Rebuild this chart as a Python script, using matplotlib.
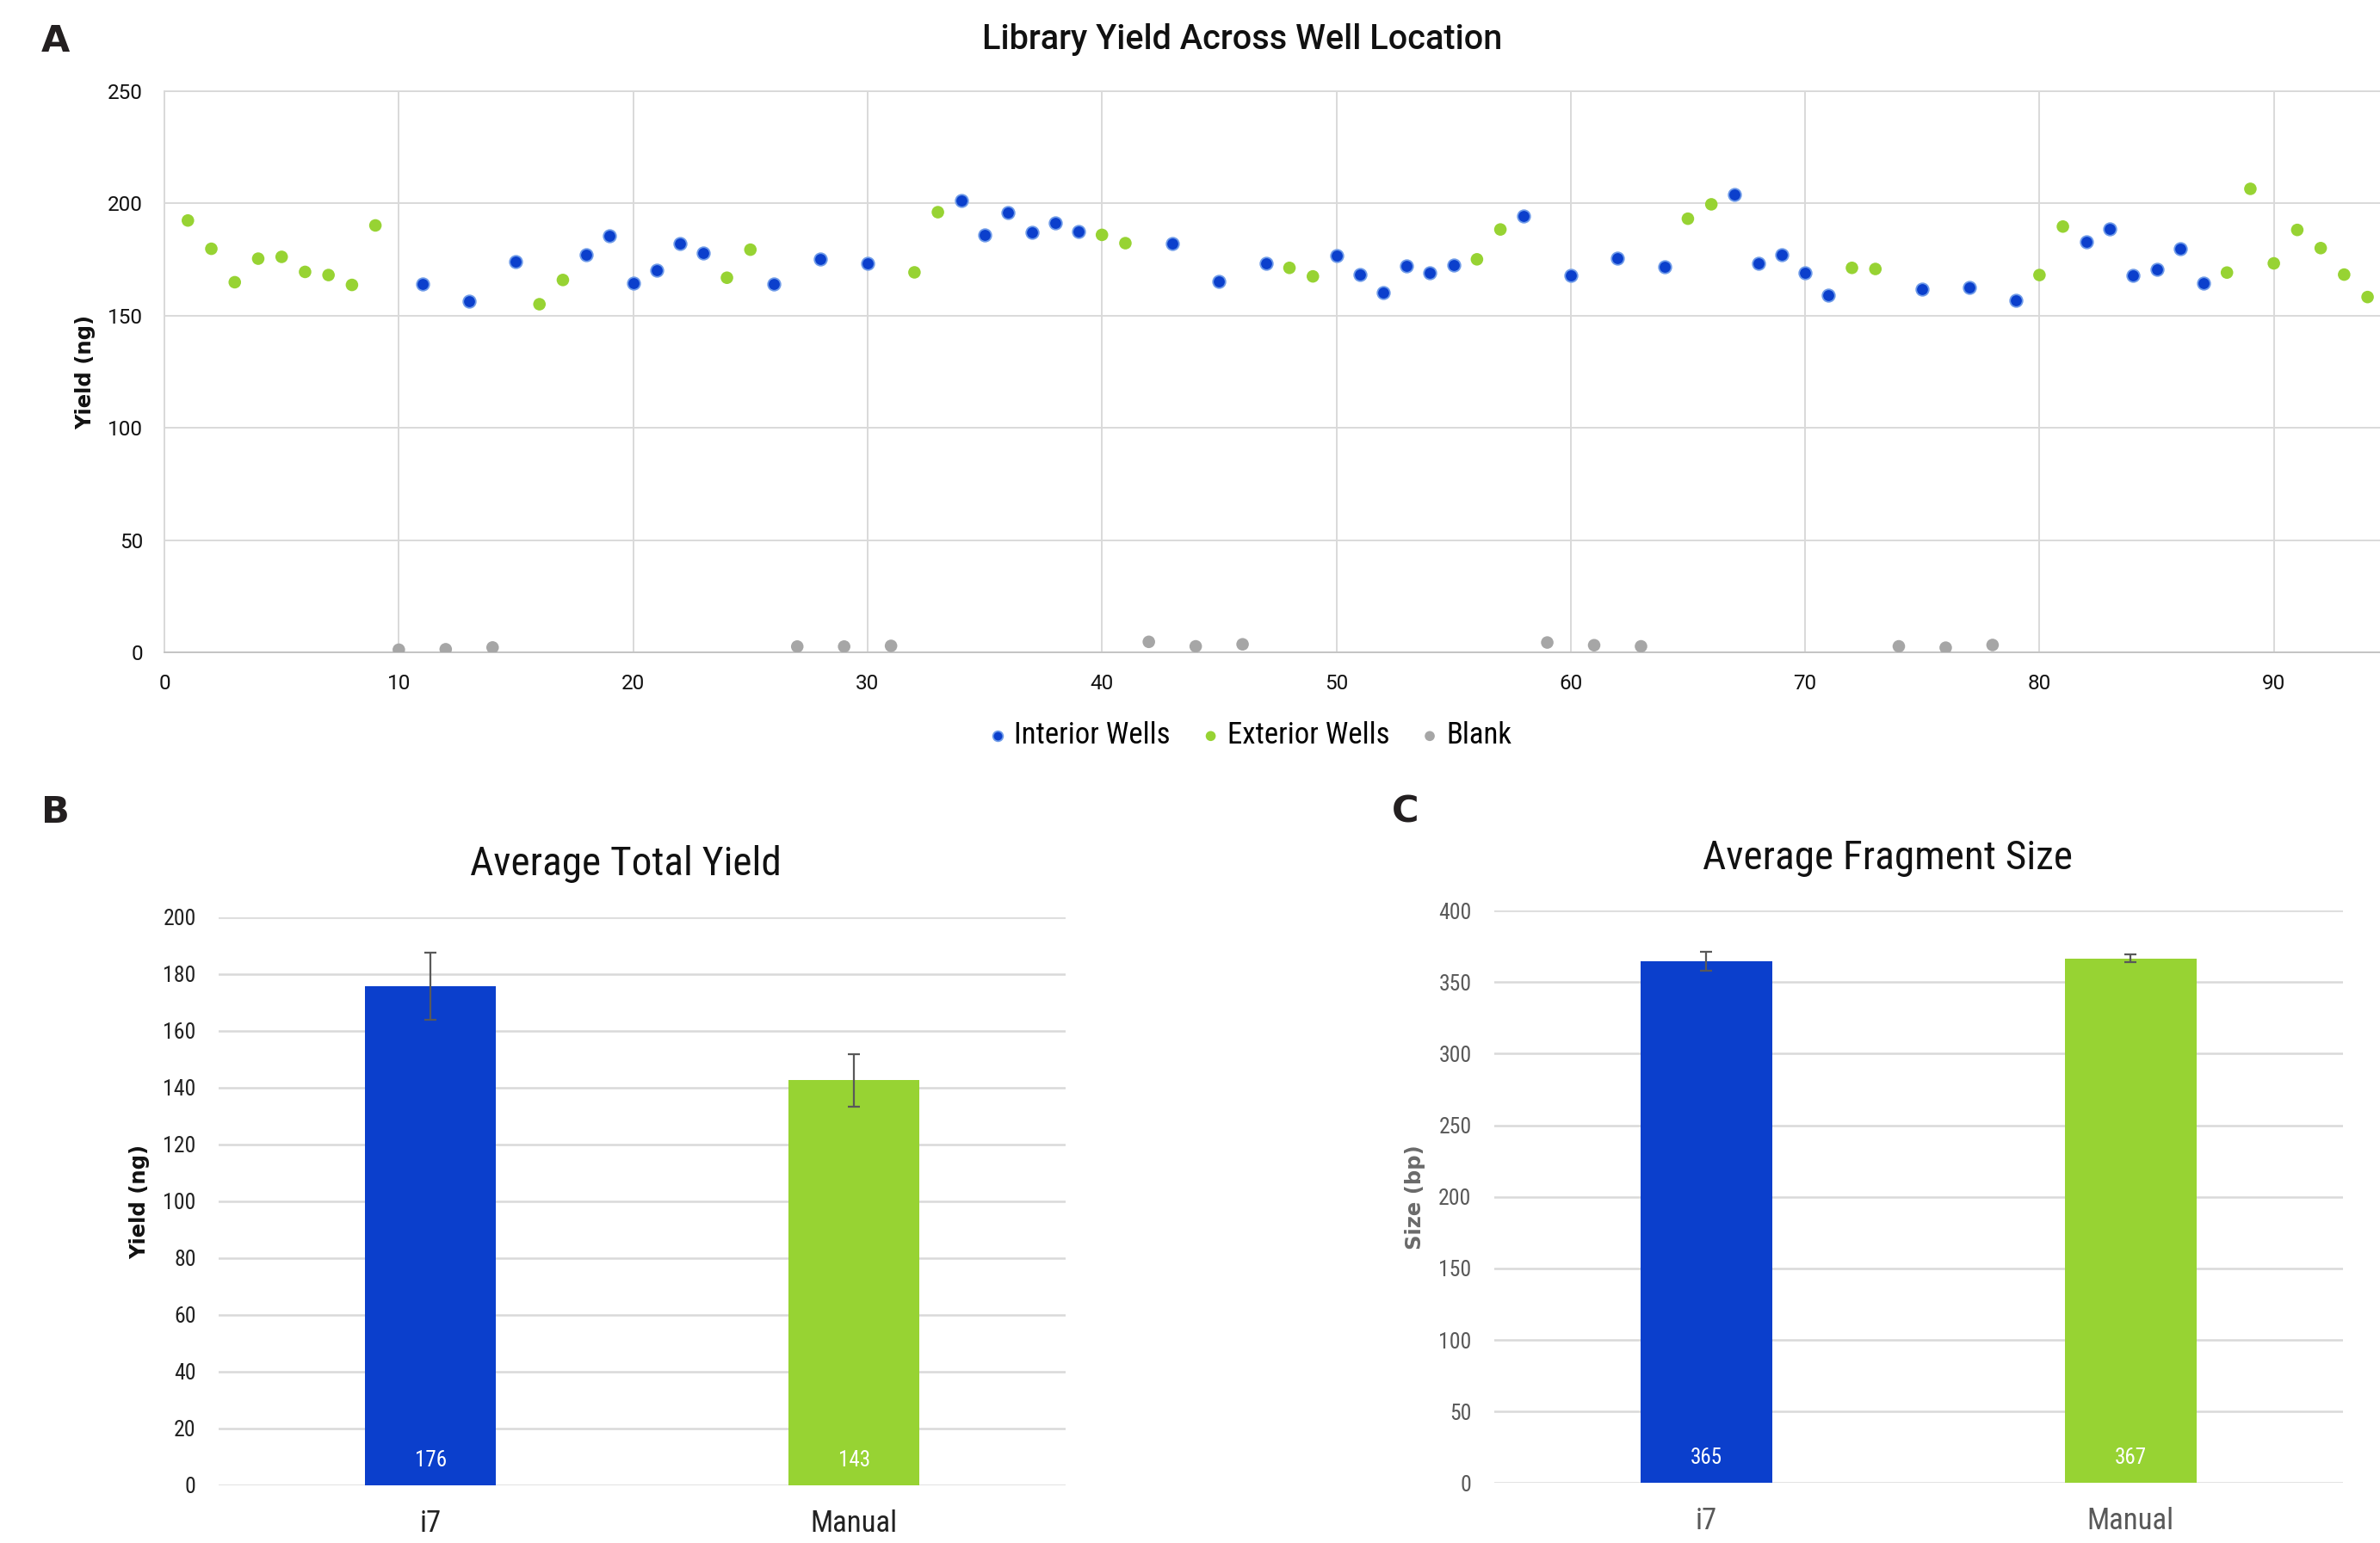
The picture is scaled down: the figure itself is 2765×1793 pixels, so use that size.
import matplotlib
matplotlib.use("Agg")
import matplotlib.pyplot as plt
from matplotlib import font_manager
from matplotlib.font_manager import FontProperties
from matplotlib.transforms import blended_transform_factory

# ---- Panel A: library yield per well ----
interior_wells = [11, 13, 15, 18, 19, 20, 21, 22, 23, 26, 28, 30, 34, 35, 36, 37, 38, 39,
                  43, 45, 47, 50, 51, 52, 53, 54, 55, 58, 60, 62, 64, 67, 68, 69, 70, 71,
                  75, 77, 79, 82, 83, 84, 85, 86, 87]
interior_yield = [164.1, 156.5, 173.9, 177.0, 185.4, 164.5, 170.3, 182.2, 178.0, 164.0,
                  175.1, 173.4, 201.2, 185.8, 195.9, 187.0, 191.3, 187.5, 182.3, 165.1,
                  173.3, 176.8, 168.3, 160.4, 172.2, 169.2, 172.4, 194.3, 168.1, 175.8,
                  171.9, 204.1, 173.4, 177.2, 169.2, 159.1, 161.8, 162.4, 156.8, 182.8,
                  188.8, 168.0, 170.5, 179.9, 164.6]

exterior_wells = [1, 2, 3, 4, 5, 6, 7, 8, 9, 16, 17, 24, 25, 32, 33, 40, 41, 48, 49,
                  56, 57, 65, 66, 72, 73, 80, 81, 88, 89, 90, 91, 92, 93, 94]
exterior_yield = [192.4, 179.8, 164.9, 175.4, 176.2, 169.5, 168.1, 163.7, 190.2, 155.1,
                  165.9, 166.9, 179.4, 169.3, 196.1, 186.0, 182.3, 171.3, 167.5, 175.1,
                  188.4, 193.2, 199.6, 171.3, 170.8, 168.1, 189.7, 169.2, 206.5, 173.3,
                  188.2, 180.1, 168.3, 158.3]

blank_wells = [10, 12, 14, 27, 29, 31, 42, 44, 46, 59, 61, 63, 74, 76, 78]
blank_yield = [1.2, 1.4, 2.2, 2.6, 2.6, 2.9, 4.7, 2.7, 3.6, 4.4, 3.2, 2.7, 2.7, 2.1, 3.3]

# ---- Panels B and C: method comparison ----
methods = ["i7", "Manual"]
avg_yield = [175.8, 142.6]
yield_err = [11.8, 9.2]
avg_size = [364.6, 366.6]
size_err = [6.8, 2.8]

BLUE = "#0b3fcc"
GREEN = "#97d333"
GREY_DOT = "#a6a6a6"
GRID = "#d9d9d9"

available = {f.name for f in font_manager.fontManager.ttflist}
MAIN = "Roboto" if "Roboto" in available else "DejaVu Sans"


def find_condensed():
    for fam in ["Liberation Sans Narrow", "Roboto Condensed", "Open Sans Condensed",
                "Noto Sans", "Open Sans", "DejaVu Sans"]:
        try:
            path = font_manager.findfont(FontProperties(family=fam, stretch="condensed"),
                                         fallback_to_default=False)
        except Exception:
            continue
        low = path.lower()
        if "condensed" in low or "narrow" in low:
            return path
    return None


cond_path = find_condensed()
if cond_path:
    sizes = dict(title=34, ytick=18.5, xtick=25, value=18, legend=25)
else:
    sizes = dict(title=31, ytick=15, xtick=21, value=16, legend=21)


def nfont(size):
    if cond_path:
        return FontProperties(fname=cond_path, size=size)
    return FontProperties(family=MAIN, size=size)


fig = plt.figure(figsize=(27.65, 17.93), dpi=100)

# ---------------- A ----------------
axA = fig.add_axes([0.0691, 0.5772, 0.9309, 0.3637])
axA.scatter(interior_wells, interior_yield, s=110, color=BLUE, edgecolors="#6f9be8",
            linewidths=1.3, zorder=3, label="Interior Wells")
axA.scatter(exterior_wells, exterior_yield, s=110, color=GREEN, edgecolors="none",
            zorder=3, label="Exterior Wells")
axA.scatter(blank_wells, blank_yield, s=110, color=GREY_DOT, edgecolors="none",
            zorder=3, label="Blank")
axA.set_xlim(0, 94.53)
axA.set_ylim(0, 250)
axA.set_xticks(range(0, 91, 10))
axA.set_yticks(range(0, 251, 50))
axA.grid(True, color=GRID, linewidth=1.4)
axA.set_axisbelow(True)
for side in ["top", "left", "bottom"]:
    axA.spines[side].set_color(GRID)
    axA.spines[side].set_linewidth(1.4)
axA.spines["bottom"].set_color("#c4c4c4")
axA.spines["right"].set_visible(False)
axA.tick_params(length=0, pad=18, labelsize=17.5, labelcolor="#111111")
for lab in axA.get_xticklabels() + axA.get_yticklabels():
    lab.set_family(MAIN)
axA.set_ylabel("Yield (ng)", fontsize=17.5, fontweight="bold", color="#111111")
axA.yaxis.set_label_coords(-0.031, 0.5)

fig.legend(*axA.get_legend_handles_labels(), loc="center", bbox_to_anchor=(0.5256, 0.5232),
           ncol=3, frameon=False, markerscale=0.8, handlelength=0.5, handletextpad=0.3,
           columnspacing=1.1, prop=nfont(sizes["legend"]))

fig.text(0.5219, 0.9745, "Library Yield Across Well Location", ha="center", va="center",
         fontsize=28.5, family=MAIN, fontweight="medium", color="#111111")


def bar_panel(rect, values, errors, ylim, step, ylabel, tick_color, ylabel_color):
    ax = fig.add_axes(rect)
    x = range(len(methods))
    ax.bar(x, values, width=0.31, color=[BLUE, GREEN], zorder=3)
    ax.errorbar(x, values, yerr=errors, fmt="none", ecolor="#595959", elinewidth=1.6,
                capsize=5, capthick=1.6, zorder=4)
    ax.set_xlim(-0.5, 1.5)
    ax.set_ylim(0, ylim)
    ax.set_yticks(range(0, ylim + 1, step))
    ax.set_xticks(list(x))
    ax.set_xticklabels(methods)
    ax.yaxis.grid(True, color=GRID, linewidth=1.8)
    ax.set_axisbelow(True)
    for side in ["top", "left", "right", "bottom"]:
        ax.spines[side].set_visible(False)
    ax.tick_params(axis="y", length=0, pad=19, labelcolor=tick_color)
    ax.tick_params(axis="x", length=0, pad=20, labelcolor=tick_color)
    for lab in ax.get_yticklabels():
        lab.set_fontproperties(nfont(sizes["ytick"]))
    for lab in ax.get_xticklabels():
        lab.set_fontproperties(nfont(sizes["xtick"]))
    ax.set_ylabel(ylabel, fontsize=17.5, fontweight="bold", color=ylabel_color)
    ax.yaxis.set_label_coords(-0.081, 0.5)
    tr = blended_transform_factory(ax.transData, ax.transAxes)
    for xi, v in zip(x, values):
        ax.text(xi, 0.044, f"{v:.0f}", transform=tr, ha="center", va="center",
                color="white", fontproperties=nfont(sizes["value"]), zorder=5)
    return ax


bar_panel([0.0919, 0.0374, 0.3559, 0.3681], avg_yield, yield_err, 200, 20,
          "Yield (ng)", "#222222", "#111111")
fig.text(0.2629, 0.440, "Average Total Yield", ha="center", va="center",
         fontproperties=nfont(sizes["title"]), color="#111111")

bar_panel([0.6278, 0.0388, 0.3566, 0.3711], avg_size, size_err, 400, 50,
          "Size (bp)", "#595959", "#6a6a6a")
fig.text(0.7931, 0.444, "Average Fragment Size", ha="center", va="center",
         fontproperties=nfont(sizes["title"]), color="#111111")

# panel letters
for letter, (lx, ly) in {"A": (0.0233, 0.9732), "B": (0.0233, 0.4735),
                         "C": (0.5904, 0.4740)}.items():
    fig.text(lx, ly, letter, ha="center", va="center", fontsize=31,
             fontweight="heavy", color="#231f20")

fig.savefig("out.png", dpi=100)
